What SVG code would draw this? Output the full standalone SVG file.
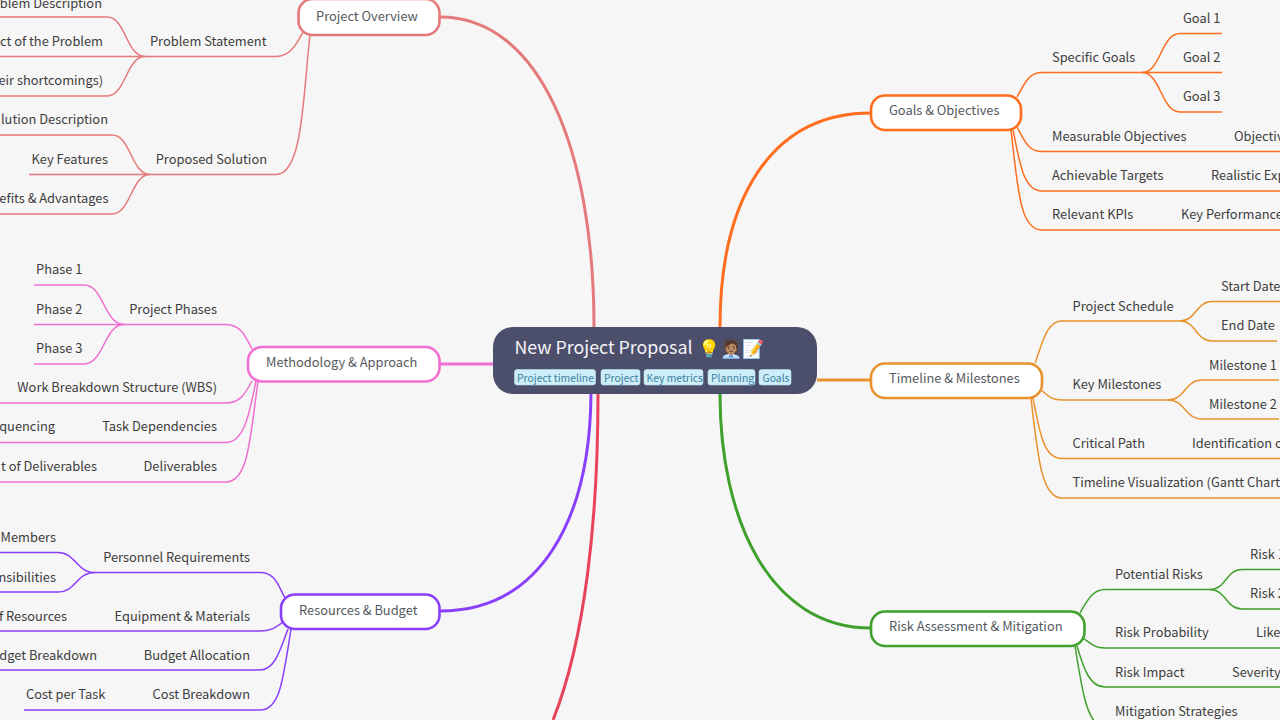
<svg xmlns="http://www.w3.org/2000/svg" width="1280" height="720" viewBox="0 0 1280 720">
<style>
text{font-family:"Noto Sans CJK SC","Noto Sans",sans-serif;font-size:12.85px;fill:#3d3d3d}
.e{text-anchor:end}
.n{fill:#555a60}
.box{fill:#fff;stroke-width:2.6}
#connectors path{fill:none;stroke-width:1.5}
#connectors .m{stroke-width:3}
.c1{stroke:#e57a7c}.c2{stroke:#f06fd2}.c3{stroke:#8a3ffc}.c4{stroke:#e8435a}.c5{stroke:#ff6d1f}.c6{stroke:#e8912d}.c7{stroke:#3fa02c}
.tag{fill:#cdeef8;stroke:#b9dfe9;stroke-width:.6}
.t{font-size:10.4px;fill:#3a7f9e}
</style>
<rect width="1280" height="720" fill="#f6f6f6"/>
<g id="connectors">
<path class="m c1" d="M594 327C594 150 540 17 440 17"/>
<path class="m c2" d="M494 364H440"/>
<path class="m c3" d="M591 394C590 520 540 611 440 611"/>
<path class="m c4" d="M598 394C598 520 585 640 553 720"/>
<path class="m c5" d="M720 327C720 200 770 113 871 113"/>
<path class="m c6" d="M817 380L871 380"/>
<path class="m c7" d="M720 394C720 520 770 628 871 628"/>
<path class="c1" d="M303 32C296 45 290 56.500 276 56.500H145"/><path class="c1" d="M145 56.500C126 56.500 126 17 107 17H0"/><path class="c1" d="M145 56.500H0"/><path class="c1" d="M145 56.500C126 56.500 126 96 107 96H0"/>
<path class="c1" d="M310 35C303 95 303 174.500 276 174.500H150"/><path class="c1" d="M150 174.500C131 174.500 131 135 112 135H0"/><path class="c1" d="M150 174.500H29"/><path class="c1" d="M150 174.500C131 174.500 131 214 112 214H0"/>
<path class="c2" d="M252 349C245 335 240 324.500 226 324.500H124"/><path class="c2" d="M124 324.500C104 324.500 104 285 84 285H34"/><path class="c2" d="M124 324.500H34"/><path class="c2" d="M124 324.500C104 324.500 104 364 84 364H34"/>
<path class="c2" d="M252 381C245 394 240 403 226 403H0"/><path class="c2" d="M256 381C250 410 245 442.500 226 442.500H0"/><path class="c2" d="M258 381C250 440 248 482 226 482H0"/>
<path class="c3" d="M285 598C278 585 275 572.500 260 572.500H95"/><path class="c3" d="M95 572.500C76 572.500 76 552.500 58 552.500H0"/><path class="c3" d="M95 572.500C76 572.500 76 592 58 592H0"/>
<path class="c3" d="M283 622C276 627 272 631 260 631H0"/><path class="c3" d="M288 629C280 650 275 670 260 670H0"/><path class="c3" d="M291 629C283 680 280 710 260 710H24"/>
<path class="c5" d="M1017 97C1024 85 1028 72.500 1042 72.500H1142"/><path class="c5" d="M1142 72.500C1161 72.500 1161 33.500 1180 33.500H1222"/><path class="c5" d="M1142 72.500H1222"/><path class="c5" d="M1142 72.500C1161 72.500 1161 112 1180 112H1222"/>
<path class="c5" d="M1017 127C1024 140 1028 151.500 1042 151.500H1280"/><path class="c5" d="M1013 130C1020 165 1024 191 1042 191H1280"/><path class="c5" d="M1011 130C1018 190 1020 230 1042 230H1280"/>
<path class="c6" d="M1035 363C1042 345 1046 321 1062 321H1180"/><path class="c6" d="M1180 321C1196 321 1196 301.500 1212 301.500H1280"/><path class="c6" d="M1180 321C1196 321 1196 341 1212 341H1277"/>
<path class="c6" d="M1041 390C1048 395 1050 400 1062 400H1168"/><path class="c6" d="M1168 400C1185 400 1185 380 1202 380H1279"/><path class="c6" d="M1168 400C1185 400 1185 419 1202 419H1279"/>
<path class="c6" d="M1033 398C1040 435 1044 458.500 1062 458.500H1280"/><path class="c6" d="M1031 398C1038 460 1042 498 1062 498H1280"/>
<path class="c7" d="M1080 613C1087 601 1092 589.500 1105 589.500H1210"/><path class="c7" d="M1210 589.500C1226 589.500 1226 569.500 1242 569.500H1280"/><path class="c7" d="M1210 589.500C1226 589.500 1226 609 1242 609H1280"/>
<path class="c7" d="M1083 638C1090 643 1094 648 1105 648H1280"/><path class="c7" d="M1077 646C1084 670 1090 687 1105 687H1280"/><path class="c7" d="M1075 646C1082 690 1086 712 1095 722"/>
</g>
<g id="root"><rect x="493" y="327" width="324" height="67" rx="20" fill="#4c4f6b"/><text x="514.500" y="354" style="font-size:17.8px;fill:#f4f4f8">New Project Proposal</text><text x="698" y="354.500" style="font-size:17.800px;fill:#fff">💡🧑🏽‍💼📝</text>
<rect class="tag" x="514.500" y="369.500" width="81" height="15.500" rx="2.500"/><text class="t" x="517" y="381.500">Project timeline</text>
<rect class="tag" x="601" y="369.500" width="39" height="15.500" rx="2.500"/><text class="t" x="604" y="381.500">Project</text>
<rect class="tag" x="644" y="369.500" width="59" height="15.500" rx="2.500"/><text class="t" x="646.500" y="381.500">Key metrics</text>
<rect class="tag" x="708" y="369.500" width="47" height="15.500" rx="2.500"/><text class="t" x="711" y="381.500">Planning</text>
<rect class="tag" x="759" y="369.500" width="32" height="15.500" rx="2.500"/><text class="t" x="762.500" y="381.500">Goals</text></g>
<g id="project-overview"><rect class="box c1" x="298.500" y="-1" width="141" height="36" rx="14"/><text class="n" x="316" y="20.500">Project Overview</text></g>
<g id="methodology"><rect class="box c2" x="248" y="347" width="191.500" height="34.500" rx="14"/><text class="n" x="266" y="366.500">Methodology &amp; Approach</text></g>
<g id="resources"><rect class="box c3" x="281" y="594.500" width="158.500" height="34.500" rx="14"/><text class="n" x="299" y="614.500">Resources &amp; Budget</text></g>
<g id="goals"><rect class="box c5" x="871" y="95.500" width="150" height="34.500" rx="14"/><text class="n" x="889" y="115">Goals &amp; Objectives</text></g>
<g id="timeline"><rect class="box c6" x="871" y="363.500" width="171" height="34.500" rx="14"/><text class="n" x="889" y="383">Timeline &amp; Milestones</text></g>
<g id="risk"><rect class="box c7" x="871" y="611.500" width="213.500" height="34.500" rx="14"/><text class="n" x="889" y="631">Risk Assessment &amp; Mitigation</text></g>
<g id="labels" transform="translate(0 -.5)">
<g id="l1"><text class="e" x="102" y="8">blem Description</text></g>
<g id="l2"><text class="e" x="103" y="46">ct of the Problem</text></g>
<g id="l3"><text class="e" x="103" y="85">eir shortcomings)</text></g>
<g id="l4"><text class="e" x="266.500" y="46">Problem Statement</text></g>
<g id="l5"><text class="e" x="108" y="124">lution Description</text></g>
<g id="l6"><text class="e" x="108" y="164">Key Features</text></g>
<g id="l7"><text class="e" x="108.500" y="203">efits &amp; Advantages</text></g>
<g id="l8"><text class="e" x="267" y="164">Proposed Solution</text></g>
<g id="l9"><text x="36" y="274">Phase 1</text></g>
<g id="l10"><text x="36" y="314">Phase 2</text></g>
<g id="l11"><text x="36" y="353">Phase 3</text></g>
<g id="l12"><text class="e" x="217" y="314">Project Phases</text></g>
<g id="l13"><text class="e" x="217" y="392">Work Breakdown Structure (WBS)</text></g>
<g id="l14"><text class="e" x="55" y="431">quencing</text></g>
<g id="l15"><text class="e" x="217" y="431">Task Dependencies</text></g>
<g id="l16"><text class="e" x="97" y="471">t of Deliverables</text></g>
<g id="l17"><text class="e" x="217" y="471">Deliverables</text></g>
<g id="l18"><text class="e" x="56" y="542">Members</text></g>
<g id="l19"><text class="e" x="56" y="582">nsibilities</text></g>
<g id="l20"><text class="e" x="250" y="562">Personnel Requirements</text></g>
<g id="l21"><text class="e" x="67" y="621">f Resources</text></g>
<g id="l22"><text class="e" x="250" y="621">Equipment &amp; Materials</text></g>
<g id="l23"><text class="e" x="97" y="660">dget Breakdown</text></g>
<g id="l24"><text class="e" x="250" y="660">Budget Allocation</text></g>
<g id="l25"><text x="26" y="699">Cost per Task</text></g>
<g id="l26"><text class="e" x="250" y="699">Cost Breakdown</text></g>
<g id="r1"><text x="1052" y="62">Specific Goals</text></g>
<g id="r2"><text x="1183" y="23">Goal 1</text></g>
<g id="r3"><text x="1183" y="62">Goal 2</text></g>
<g id="r4"><text x="1183" y="101">Goal 3</text></g>
<g id="r5"><text x="1052" y="141">Measurable Objectives</text></g>
<g id="r6"><text x="1234" y="141">Objectiv</text></g>
<g id="r7"><text x="1052" y="180">Achievable Targets</text></g>
<g id="r8"><text x="1211" y="180">Realistic Exp</text></g>
<g id="r9"><text x="1052" y="219">Relevant KPIs</text></g>
<g id="r10"><text x="1181" y="219">Key Performance</text></g>
<g id="r11"><text x="1072.500" y="311">Project Schedule</text></g>
<g id="r12"><text x="1221" y="291">Start Date</text></g>
<g id="r13"><text x="1221" y="330">End Date</text></g>
<g id="r14"><text x="1072.500" y="389">Key Milestones</text></g>
<g id="r15"><text x="1209" y="370">Milestone 1</text></g>
<g id="r16"><text x="1209" y="409">Milestone 2</text></g>
<g id="r17"><text x="1072.500" y="448">Critical Path</text></g>
<g id="r18"><text x="1192" y="448">Identification o</text></g>
<g id="r19"><text x="1072.500" y="487">Timeline Visualization (Gantt Chart</text></g>
<g id="r20"><text x="1115" y="579">Potential Risks</text></g>
<g id="r21"><text x="1250" y="559">Risk 1</text></g>
<g id="r22"><text x="1250" y="598">Risk 2</text></g>
<g id="r23"><text x="1115" y="637">Risk Probability</text></g>
<g id="r24"><text x="1256" y="637">Like</text></g>
<g id="r25"><text x="1115" y="677">Risk Impact</text></g>
<g id="r26"><text x="1232" y="677">Severity</text></g>
<g id="r27"><text x="1115" y="716">Mitigation Strategies</text></g>
</g>
</svg>
